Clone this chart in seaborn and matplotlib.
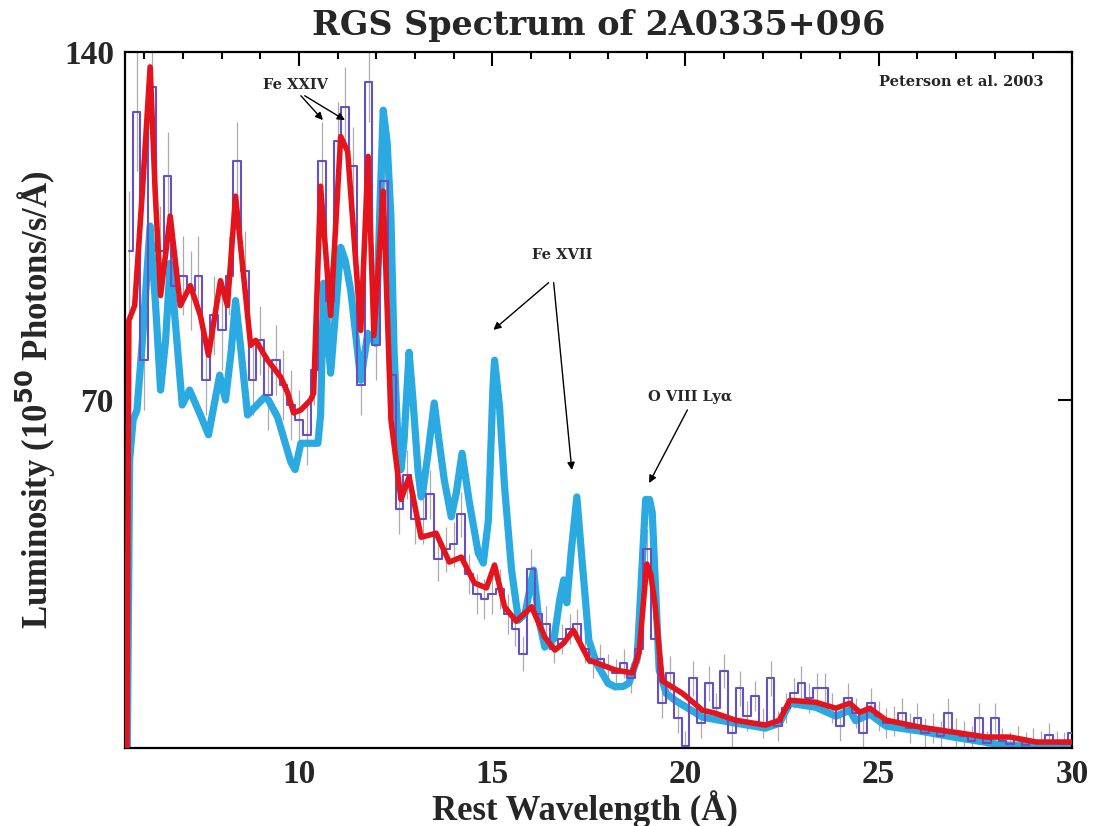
import numpy as np
import pandas as pd
import matplotlib
matplotlib.use("Agg")
import matplotlib.pyplot as plt
import seaborn as sns
from matplotlib.ticker import MultipleLocator, FixedLocator

# ---------------- data ----------------
# observed RGS spectrum: 0.2 A bins starting at 5.6 A
bin_start = 5.6
bin_width = 0.2
data_lum = [100, 128, 78, 133, 100, 115, 93, 95, 92, 95,
            74, 87, 84, 95, 118, 96, 74, 82, 71, 78,
            73, 69, 66, 63, 76, 118, 90, 122, 129, 117,
            73, 134, 81, 114, 75, 48, 55, 46, 46, 51,
            38, 40, 41, 47, 35, 31, 30, 31, 32, 27,
            24, 19, 36, 27, 25, 20, 22, 24, 25, 20,
            17, 18, 16, 15, 17, 14, 20, 40, 22, 9,
            15, 6, 0.5, 14, 5, 13, 8, 15.5, 3, 12,
            6.5, 10.5, 5, 14, 4.5, 8, 11, 13, 10, 12,
            12, 8, 4.5, 10, 7, 3, 9, 6.5, 5, 5.5,
            7, 4, 6, 3, 4, 2.5, 7, 3, 2.5, 1.5,
            6, 1, 6, 1.5, 0.8, 2, 0.7, 1.5, 1, 2.6,
            1, 0.8, 3]
data_err = [12, 12, 10, 10, 9, 9, 8, 8, 8, 8,
            7, 8, 8, 8, 8, 8, 7, 7, 7, 7,
            7, 7, 6, 6, 7, 8, 7, 8, 8, 8,
            6, 8, 7, 8, 6, 5, 5, 5, 5, 5,
            4.5, 4.5, 4.5, 4.5, 4, 4, 4, 4, 4, 4,
            3.5, 3.5, 4, 3.5, 3.5, 3, 3, 3, 3, 3,
            3, 3, 3, 3, 3, 3, 3, 4, 3, 3,
            3.5, 3, 3, 3.5, 3, 3.5, 3, 3.5, 3, 3.5,
            3, 3, 3, 3.5, 3, 3, 3, 3.5, 3, 3,
            3, 3, 3, 3, 3, 3, 3, 3, 3, 3,
            3, 3, 3, 3, 3, 3, 3, 3, 3, 3,
            3, 2.5, 3, 2.5, 2.5, 2.5, 2.5, 2.5, 2.5, 2.5,
            2.5, 2.5, 2.5]

# cooling-flow model (blue)
blue_wl = [5.56, 5.62, 5.71, 5.81, 5.95, 6.15, 6.30, 6.42, 6.55, 6.67, 6.82,
           6.98, 7.17, 7.45, 7.66, 7.95, 8.10, 8.25, 8.36, 8.50, 8.67, 9.10,
           9.21, 9.45, 9.79, 9.90, 10.05, 10.49, 10.56, 10.64, 10.82, 10.95,
           11.08, 11.20, 11.34, 11.60, 11.78, 11.99, 12.10, 12.18, 12.28, 12.38,
           12.46, 12.56, 12.64, 12.72, 12.85, 12.95, 13.08, 13.16, 13.20, 13.34,
           13.50, 13.62, 13.76, 13.94, 14.07, 14.22, 14.41, 14.64, 14.77, 14.90,
           15.02, 15.06, 15.19, 15.32, 15.50, 15.68, 15.85, 16.07, 16.20, 16.36,
           16.60, 16.75, 16.85, 16.93, 17.05, 17.19, 17.30, 17.50, 17.70, 18.00,
           18.18, 18.40, 18.54, 18.75, 18.90, 18.97, 19.07, 19.14, 19.25, 19.32,
           19.50, 19.73, 20.44, 21.30, 22.07, 22.43, 22.70, 23.37, 23.89, 24.25,
           24.40, 24.77, 25.19, 26.07, 26.93, 28.20, 29.97]
blue_lum = [0, 58, 66, 68, 82, 105, 88, 72, 82, 97.5, 84,
            69, 72, 67, 63, 75, 70, 80, 90, 80, 67, 70.5,
            70, 66.5, 57.5, 56, 61.3, 61.3, 67, 93.5, 75.4, 88,
            100.7, 98, 92, 74, 83.4, 81.4, 110, 128.3, 122, 106.8,
            80, 62, 56, 62, 79.6, 70, 55.9, 50.5, 51.3, 59.3,
            69.4, 62, 53.9, 46.5, 51.3, 59.3, 49.3, 39.2, 37.2, 45.8,
            72.6, 78, 68.6, 52.5, 35.8, 25.7, 27, 35.8, 26, 20.3,
            22, 30, 33.8, 29.2, 40, 50.5, 40, 21.7, 17, 13,
            12.3, 12.4, 13.1, 18, 40, 50, 50, 47.3, 28, 15.7,
            11, 9.6, 6.2, 5.0, 4.0, 5.0, 9.0, 8.2, 6.4, 7.6,
            5.5, 6.8, 4.4, 3.4, 2.2, 0.6, 0.4]

# best-fit model (red)
red_wl = [5.55, 5.60, 5.75, 5.95, 6.15, 6.28, 6.42, 6.67, 6.93, 7.19, 7.45,
          7.66, 7.97, 8.15, 8.36, 8.75, 8.88, 9.19, 9.53, 9.71, 9.86, 10.05,
          10.30, 10.38, 10.56, 10.82, 11.08, 11.26, 11.60, 11.79, 11.94, 12.18,
          12.38, 12.64, 12.85, 13.16, 13.55, 13.89, 14.20, 14.54, 14.85, 15.06,
          15.32, 15.62, 16.02, 16.36, 16.62, 16.85, 17.10, 17.50, 18.18, 18.62,
          18.80, 18.92, 19.00, 19.10, 19.21, 19.40, 19.92, 20.44, 20.77, 21.29,
          22.07, 22.43, 22.70, 23.37, 23.89, 24.25, 24.51, 24.77, 25.19, 26.07,
          26.93, 27.79, 28.40, 29.08, 29.97]
red_lum = [0, 86, 89, 112, 137, 112, 91, 107, 89, 93, 87,
           79, 94, 89, 111, 81, 82, 78, 74.6, 71.4, 67.4, 68,
           70, 71.4, 113, 87, 123, 120, 84, 119, 83, 112,
           66, 50, 54.5, 42.4, 43.2, 37.4, 38.4, 33.2, 32.2, 36.8,
           28.4, 25.5, 28.4, 22.3, 19.7, 21.1, 23.7, 17.7, 15.7, 15.1,
           19.1, 30, 37, 35, 29, 13.5, 11, 7.6, 7.0, 5.6,
           4.6, 5.6, 9.6, 9.2, 8.0, 9.0, 7.2, 8.0, 5.6, 4.2,
           3.2, 2.2, 2.2, 1.2, 1.2]

x_major = [10, 15, 20, 25, 30]
y_major = [70, 140]

# ---------------- build tables ----------------
centers = bin_start + bin_width * np.arange(len(data_lum))
df_data = pd.DataFrame({"wl": centers, "lum": data_lum, "err": data_err})
df_blue = pd.DataFrame({"wl": blue_wl, "lum": blue_lum})
df_red = pd.DataFrame({"wl": red_wl, "lum": red_lum})

# ---------------- style ----------------
sns.set_theme(style="white")
plt.rcParams["font.family"] = ["Liberation Serif", "DejaVu Serif"]
plt.rcParams["font.weight"] = "bold"
plt.rcParams["axes.labelweight"] = "bold"

fig = plt.figure(figsize=(10.95, 8.26), dpi=100)
ax = fig.add_axes([0.11416, 0.09443, 0.86484, 0.84262])

# error bars
ax.vlines(df_data["wl"], df_data["lum"] - df_data["err"],
          df_data["lum"] + df_data["err"], color="#ababab", lw=0.9, zorder=1)

# blue model
sns.lineplot(data=df_blue, x="wl", y="lum", ax=ax, color="#2ba9e1",
             linewidth=5.2, zorder=2, solid_joinstyle="round", solid_capstyle="round")
# observed data as step histogram
sns.lineplot(data=df_data, x="wl", y="lum", ax=ax, color="#6650c4",
             linewidth=1.5, drawstyle="steps-mid", zorder=3)
# red model
sns.lineplot(data=df_red, x="wl", y="lum", ax=ax, color="#e3141c",
             linewidth=4.0, zorder=4, solid_joinstyle="round")

ax.set_xlim(5.5, 30)
ax.set_ylim(0, 140)
ax.xaxis.set_major_locator(FixedLocator(x_major))
ax.xaxis.set_minor_locator(MultipleLocator(1))
ax.yaxis.set_major_locator(FixedLocator(y_major))
ax.set_xticklabels([str(v) for v in x_major])
ax.set_yticklabels([str(v) for v in y_major])

for s in ax.spines.values():
    s.set_color("black")
    s.set_linewidth(1.6)

ax.tick_params(which="both", direction="in", top=True, right=True,
               color="black", width=1.5)
ax.tick_params(which="major", length=10, labelsize=24, pad=8)
ax.tick_params(which="minor", length=5)
for lab in ax.get_xticklabels() + ax.get_yticklabels():
    lab.set_fontweight("bold")

ax.set_xlabel("Rest Wavelength (Å)", fontsize=25, fontweight="bold")
ax.xaxis.set_label_coords(0.486, -0.060)
ax.set_ylabel("Luminosity (10$^{\\mathbf{50}}$ Photons/s/Å)", fontsize=25,
              fontweight="bold", labelpad=4)
ax.set_title("RGS Spectrum of 2A0335+096", fontsize=24, fontweight="bold",
             family=["DejaVu Serif"], pad=12)

# annotations
afont = dict(fontsize=10.5, fontweight="bold", family=["DejaVu Serif"],
             ha="center", va="center")
arrow = dict(arrowstyle="-|>", color="black", lw=1.0, mutation_scale=11,
             shrinkA=0, shrinkB=0)

ax.text(9.92, 133.3, "Fe XXIV", **afont)
ax.annotate("", xy=(10.62, 126.3), xytext=(10.05, 131.2), arrowprops=arrow)
ax.annotate("", xy=(11.19, 126.3), xytext=(10.15, 131.2), arrowprops=arrow)

ax.text(16.8, 99.1, "Fe XVII", **afont)
ax.annotate("", xy=(15.03, 84.1), xytext=(16.46, 93.6), arrowprops=arrow)
ax.annotate("", xy=(17.06, 55.9), xytext=(16.59, 93.6), arrowprops=arrow)

ax.text(20.12, 70.6, "O VIII Lyα", **afont)
ax.annotate("", xy=(19.06, 53.3), xytext=(20.05, 68.0), arrowprops=arrow)

ax.text(27.14, 133.9, "Peterson et al. 2003", **afont)

fig.savefig("out.png", dpi=100)
